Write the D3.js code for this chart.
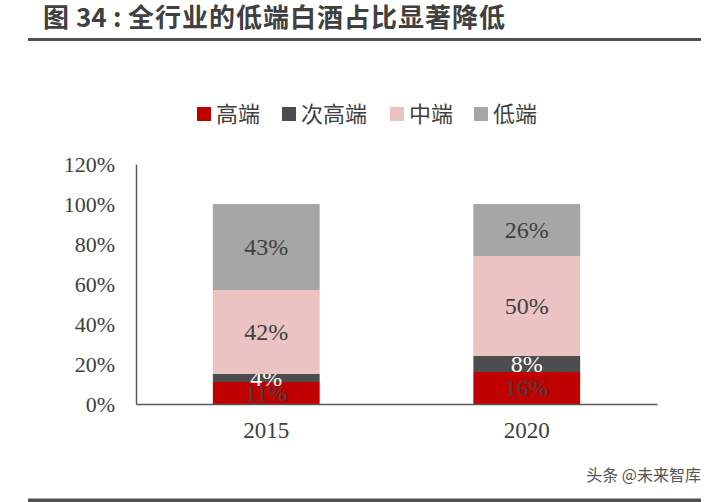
<!DOCTYPE html>
<html><head><meta charset="utf-8">
<script src="https://cdn.jsdelivr.net/npm/d3@7"></script>
<style>body{margin:0;background:#fff;} svg{display:block;}</style>
</head><body>
<svg id="c" width="710" height="502"></svg>
<script>
const categories = ["2015", "2020"];
const seriesNames = ["高端", "次高端", "中端", "低端"];
const high = [11, 16];
const subHigh = [4, 8];
const mid = [42, 50];
const low = [43, 26];
const yTicks = [0, 20, 40, 60, 80, 100, 120];
const colors = ["#C00000", "#4D4D4F", "#EBC3C3", "#A6A6A6"];
const labelColors = ["#404040", "#ffffff", "#404040", "#404040"];

const svg = d3.select("#c");
const serif = "'Liberation Serif','Times New Roman',serif";
const cjk = "'Noto Sans CJK SC','Noto Sans',sans-serif";

// title
const title = svg.append("text").attr("y", 27).attr("font-family", cjk)
  .attr("font-weight", "bold").attr("font-size", 26).attr("fill", "#404040");
title.append("tspan").attr("x", 43).text("图");
title.append("tspan").attr("x", 76).text("34");
title.append("tspan").attr("x", 113).text(":");
title.append("tspan").attr("x", 128).attr("letter-spacing", 1).text("全行业的低端白酒占比显著降低");
svg.append("rect").attr("x", 28).attr("y", 38).attr("width", 673).attr("height", 3).attr("fill", "#505050");
svg.append("rect").attr("x", 28).attr("y", 498.5).attr("width", 673).attr("height", 3.5).attr("fill", "#505050");
svg.append("text").attr("x", 701).attr("y", 481).attr("text-anchor", "end")
  .attr("font-family", cjk).attr("font-size", 16).attr("fill", "#555")
  .text("头条 @未来智库");

const x = d3.scaleBand().domain(categories).range([136, 657]).paddingInner(0.59).paddingOuter(0.295);
const y = d3.scaleLinear().domain([0, 120]).range([404, 164]);

const rows = categories.map((c, i) => ({cat: c, "高端": high[i], "次高端": subHigh[i], "中端": mid[i], "低端": low[i]}));
const stacked = d3.stack().keys(seriesNames)(rows);

stacked.forEach((s, si) => {
  const g = svg.append("g");
  g.selectAll("rect").data(s).join("rect")
    .attr("x", d => x(d.data.cat)).attr("width", x.bandwidth())
    .attr("y", d => y(d[1])).attr("height", d => y(d[0]) - y(d[1]))
    .attr("fill", colors[si]);
  g.selectAll("text").data(s).join("text")
    .attr("x", d => x(d.data.cat) + x.bandwidth() / 2)
    .attr("y", d => (y(d[0]) + y(d[1])) / 2)
    .attr("dy", "0.35em").attr("text-anchor", "middle")
    .attr("font-family", serif).attr("font-size", 24).attr("fill", labelColors[si])
    .text(d => (d[1] - d[0]) + "%");
});

// y axis
const yAxis = svg.append("g").attr("transform", "translate(136,0)")
  .call(d3.axisLeft(y).tickValues(yTicks).tickSize(0).tickPadding(21).tickFormat(d => d + "%"));
yAxis.select(".domain").attr("stroke", "#595959").attr("stroke-width", 1.5);
yAxis.selectAll("text").attr("font-family", serif).attr("font-size", 22).attr("fill", "#404040");

// x axis
const xAxis = svg.append("g").attr("transform", "translate(0,404)")
  .call(d3.axisBottom(x).tickSize(0).tickPadding(18));
xAxis.select(".domain").attr("stroke", "#595959").attr("stroke-width", 1.5);
xAxis.selectAll("text").attr("font-family", serif).attr("font-size", 23).attr("fill", "#404040");

// legend
const legendX = [197, 282, 390, 474];
seriesNames.forEach((n, i) => {
  svg.append("rect").attr("x", legendX[i]).attr("y", 107).attr("width", 14).attr("height", 14).attr("fill", colors[i]);
  svg.append("text").attr("x", legendX[i] + 19).attr("y", 114).attr("dy", "0.36em")
    .attr("font-family", cjk).attr("font-size", 22).attr("fill", "#404040").text(n);
});
</script>
</body></html>
